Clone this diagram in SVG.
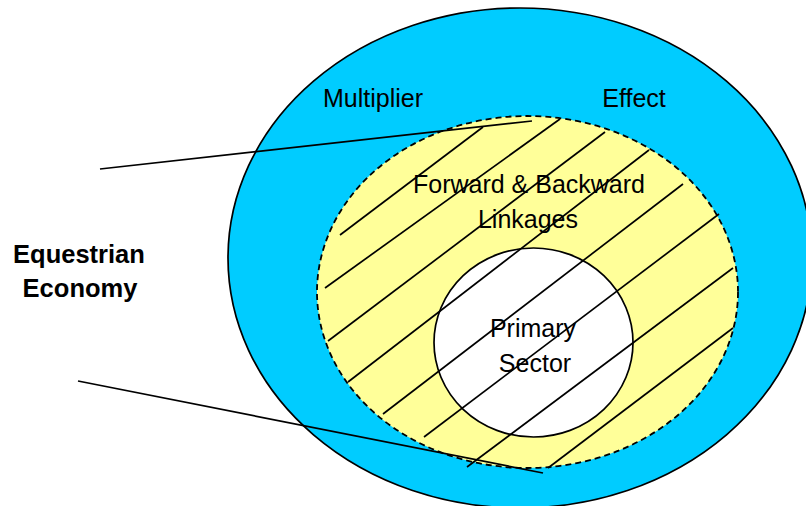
<svg xmlns="http://www.w3.org/2000/svg" width="806" height="506" viewBox="0 0 806 506">
<style>
.lbl{font-family:"Liberation Sans",Arial,sans-serif;font-size:25px;fill:#000;text-anchor:middle}
.bold{font-weight:bold;font-size:25.5px}
.hatch line{stroke:#000;stroke-width:1.7;fill:none}
.conn line{stroke:#000;stroke-width:1.7;fill:none}
</style>
<rect width="806" height="506" fill="#fff"/>
<g id="multiplier-effect">
<ellipse cx="520" cy="258" rx="292" ry="250" fill="#00CCFF" stroke="#000" stroke-width="1.7"/>
<text class="lbl" x="373" y="107">Multiplier</text>
<text class="lbl" x="634" y="107">Effect</text>
</g>
<g id="linkages">
<ellipse cx="527.5" cy="292" rx="210.5" ry="176" fill="#FFFF99" stroke="#000" stroke-width="1.8" stroke-dasharray="6,4"/>
</g>
<g id="primary-sector">
<ellipse cx="533.5" cy="342.5" rx="99.5" ry="94.5" fill="#fff" stroke="#000" stroke-width="1.7"/>
</g>
<g id="hatching" class="hatch">
<line x1="340" y1="235" x2="483" y2="127"/>
<line x1="325" y1="288" x2="560" y2="119"/>
<line x1="328" y1="341" x2="605" y2="132"/>
<line x1="348" y1="382" x2="649" y2="150"/>
<line x1="383" y1="414" x2="683" y2="184"/>
<line x1="424" y1="437" x2="719" y2="214"/>
<line x1="467" y1="467" x2="733" y2="268"/>
<line x1="548" y1="468" x2="733" y2="328"/>
</g>
<g id="connectors" class="conn">
<line x1="100" y1="169" x2="532" y2="121"/>
<line x1="78" y1="381" x2="543" y2="473"/>
</g>
<g id="labels">
<text class="lbl" x="529" y="193">Forward &amp; Backward</text>
<text class="lbl" x="528" y="228">Linkages</text>
<text class="lbl" x="533" y="337">Primary</text>
<text class="lbl" x="535" y="372">Sector</text>
</g>
<g id="equestrian-economy">
<text class="lbl bold" x="79" y="263">Equestrian</text>
<text class="lbl bold" x="80" y="297">Economy</text>
</g>
</svg>
